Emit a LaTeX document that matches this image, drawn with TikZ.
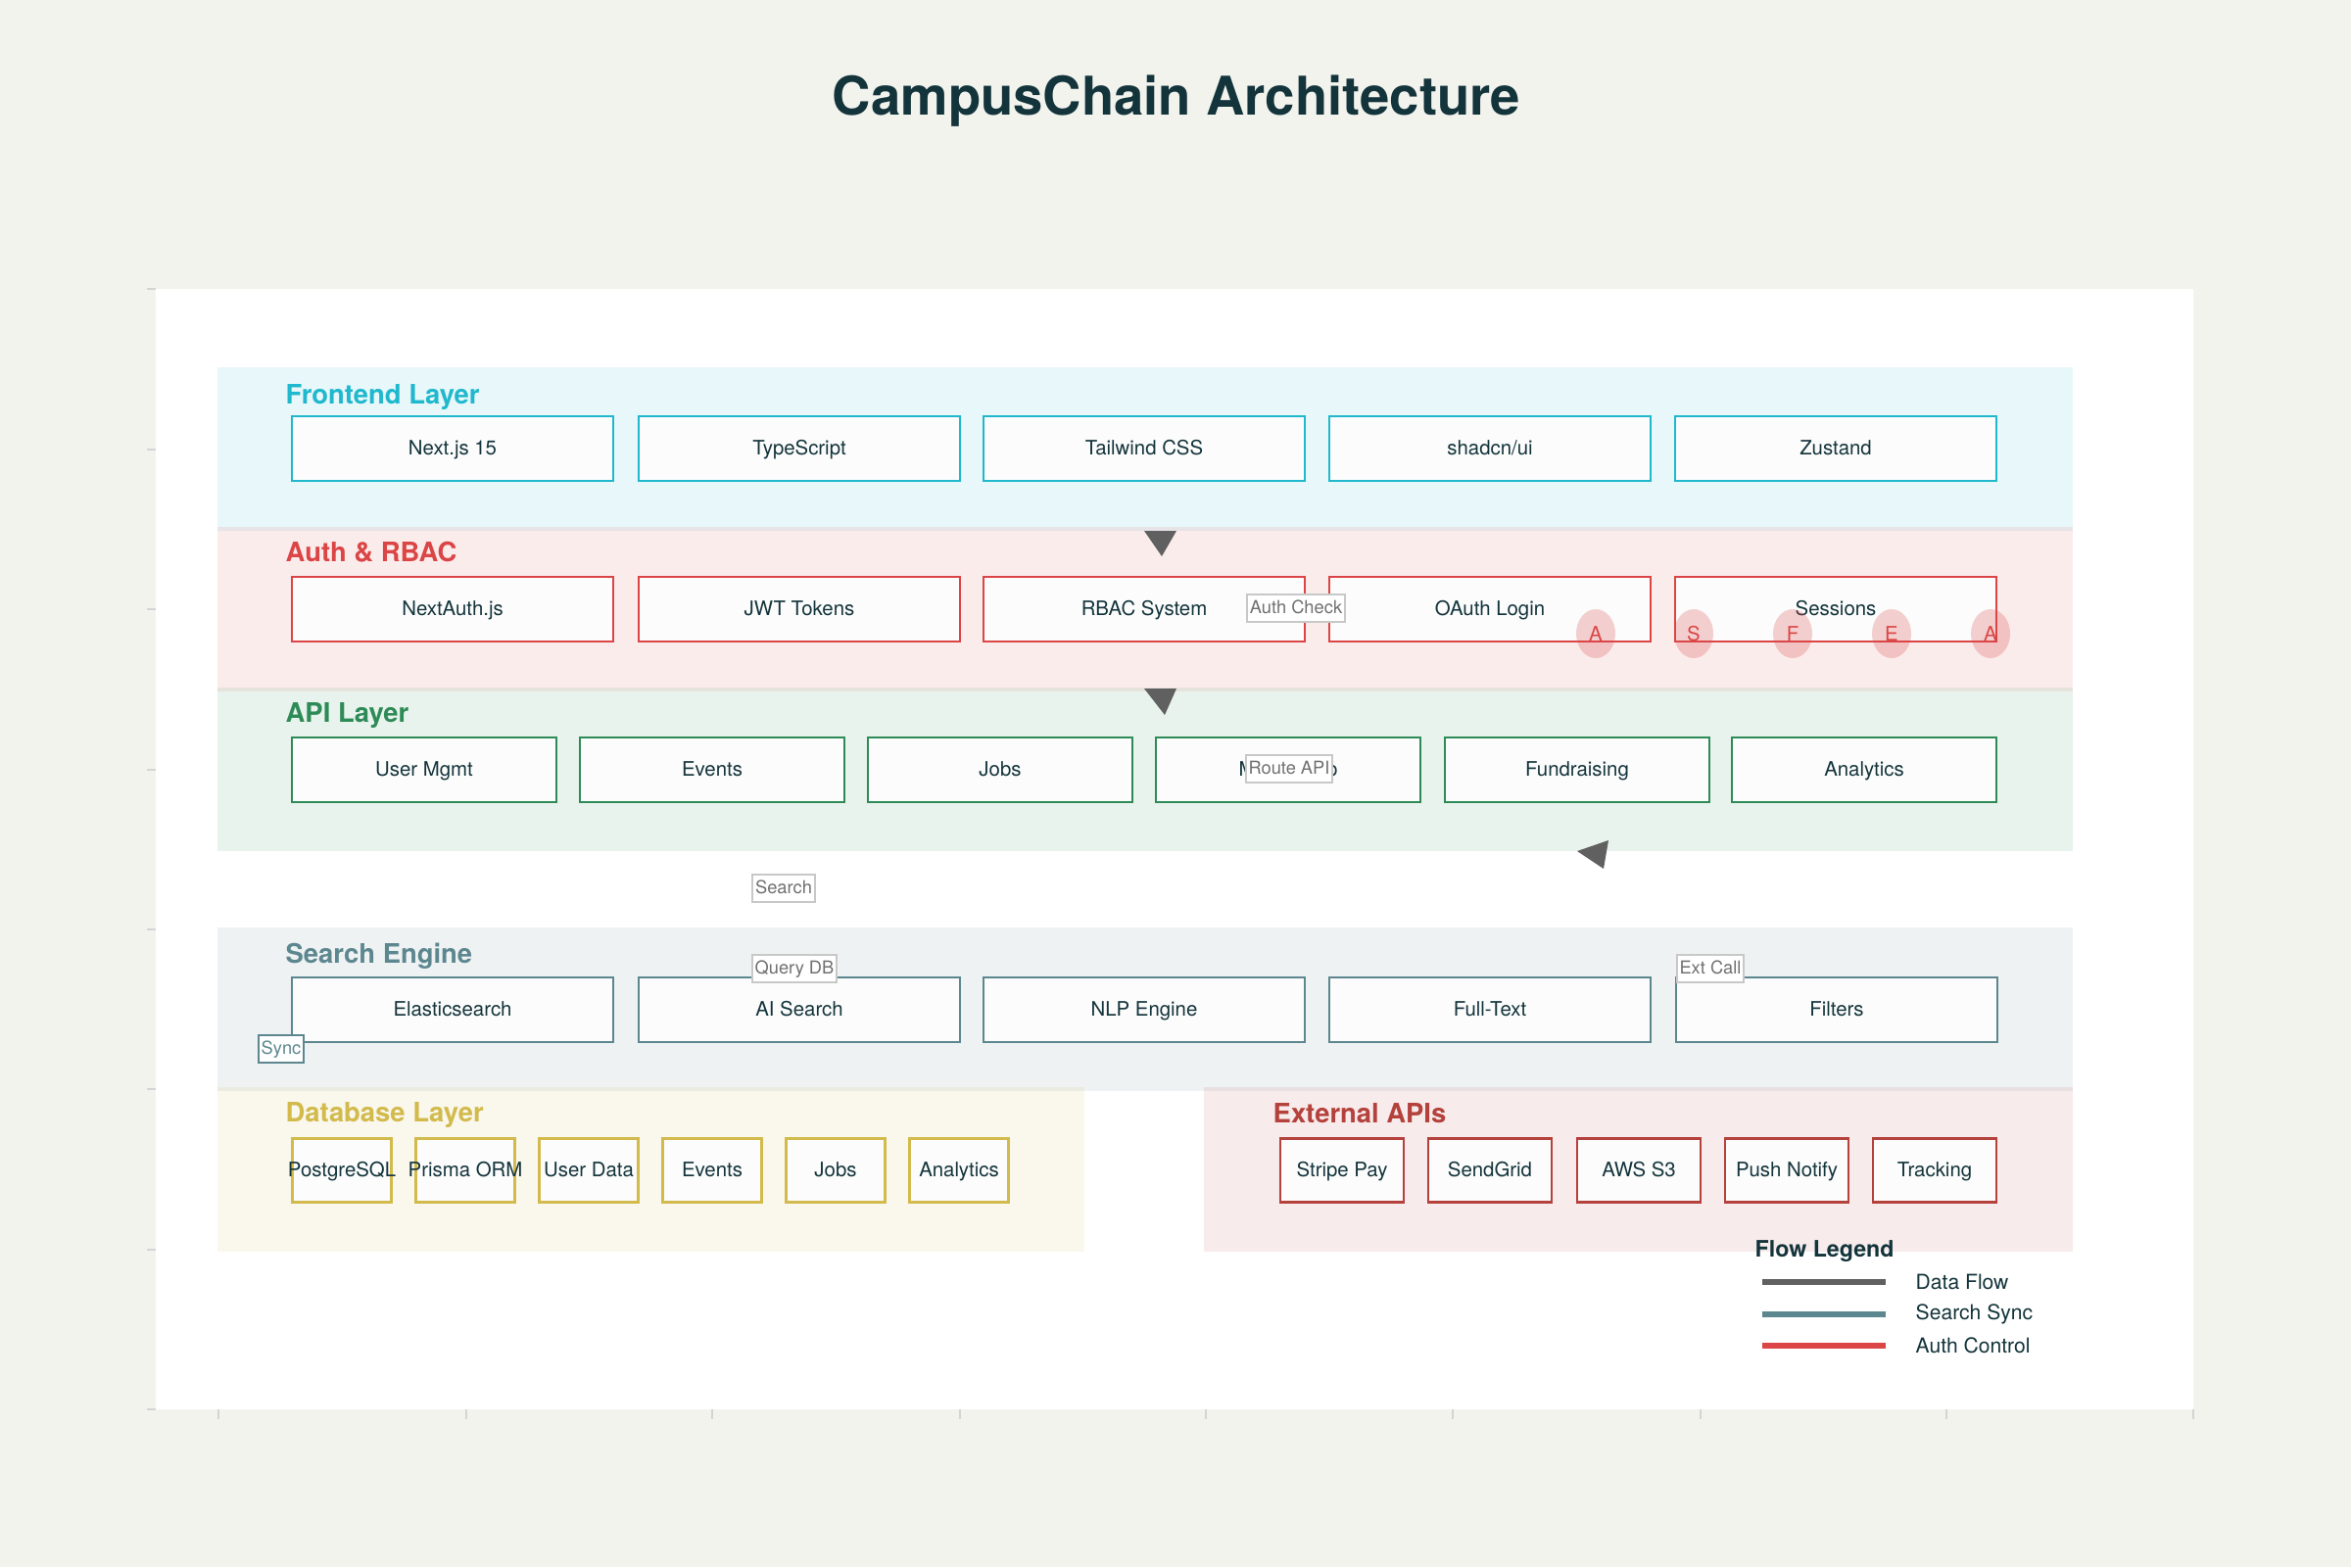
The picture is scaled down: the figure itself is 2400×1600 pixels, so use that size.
\documentclass[tikz,border=0pt]{standalone}
\usepackage{fontspec}
\setmainfont{TeX Gyre Heros}
\usepackage{tikz}
\usetikzlibrary{calc,shapes}
\tikzset{>=latex}
\definecolor{pagebg}{HTML}{F3F3EE}
\definecolor{ink}{HTML}{13343B}
\definecolor{boxfill}{HTML}{FCFCFC}
\definecolor{fecol}{HTML}{1FB8CD}
\definecolor{authcol}{HTML}{DB4545}
\definecolor{apicol}{HTML}{2E8B57}
\definecolor{srchcol}{HTML}{5D878F}
\definecolor{dbcol}{HTML}{D2BA4C}
\definecolor{extcol}{HTML}{B4413C}
\definecolor{flowgray}{HTML}{606060}
\definecolor{lblgray}{HTML}{C8C8C8}
\definecolor{lbltext}{HTML}{707070}
\definecolor{tickgray}{HTML}{D4D4D4}
\tikzset{
  comp/.style={draw, line width=0.6pt, fill=boxfill, text=ink, font=\fontsize{5.8}{7}\selectfont, inner sep=0pt, text height=4.4pt, text depth=0.9pt, minimum height=0.66cm},
  fecomp/.style={comp, draw=fecol, minimum width=3.28cm},
  authcomp/.style={comp, draw=authcol, minimum width=3.28cm},
  apicomp/.style={comp, draw=apicol, minimum width=2.7cm},
  srchcomp/.style={comp, draw=srchcol, minimum width=3.28cm},
  dbcomp/.style={comp, draw=dbcol, minimum width=1.01cm, minimum height=0.65cm, inner xsep=-6pt},
  extcomp/.style={comp, draw=extcol, minimum width=1.26cm, minimum height=0.65cm},
  layertitle/.style={anchor=base west, inner sep=0pt, font=\bfseries\fontsize{7.8}{9}\selectfont},
  flowlabel/.style={draw=lblgray, line width=0.5pt, fill=white, text=lbltext, font=\fontsize{5.2}{6}\selectfont, inner xsep=0.8pt, inner ysep=0pt, text height=4.2pt, text depth=0.8pt, minimum height=0.28cm},
  authtag/.style={ellipse, fill=authcol, fill opacity=0.25, text opacity=1, text=authcol, minimum width=0.4cm, minimum height=0.5cm, inner sep=0pt, font=\fontsize{5.8}{7}\selectfont},
  legline/.style={line width=1.8pt},
  legtext/.style={anchor=west, inner sep=0pt, text=ink, font=\fontsize{6}{7}\selectfont}
}

\begin{document}
\begin{tikzpicture}[x=0.1mm, y=-0.1mm]
\useasboundingbox (0,0) rectangle (2400,1600);
\fill[pagebg] (0,0) rectangle (2400,1600);
\fill[white] (159,295) rectangle (2239,1439);
% axis ticks
\draw[tickgray, line width=0.5pt]
(150,295) -- (159,295) (150,459) -- (159,459) (150,622) -- (159,622) (150,786) -- (159,786)
(150,949) -- (159,949) (150,1112) -- (159,1112) (150,1276) -- (159,1276) (150,1439) -- (159,1439)
(223,1439) -- (223,1449) (476,1439) -- (476,1449) (727,1439) -- (727,1449) (980,1439) -- (980,1449)
(1231,1439) -- (1231,1449) (1483,1439) -- (1483,1449) (1736,1439) -- (1736,1449) (1987,1439) -- (1987,1449)
(2239,1439) -- (2239,1449);

\node[font=\bfseries\fontsize{15.5}{19}\selectfont, text=ink] (title) at (1201,103) {CampusChain Architecture};

% layers
\fill[fecol, fill opacity=0.1] (222,375) rectangle (2116,542);
\fill[authcol, fill opacity=0.1] (222,538) rectangle (2116,706);
\fill[apicol, fill opacity=0.1] (222,702) rectangle (2116,869);
\fill[srchcol, fill opacity=0.1] (222,947) rectangle (2116,1114);
\fill[dbcol, fill opacity=0.1] (222,1110) rectangle (1107,1278);
\fill[extcol, fill opacity=0.1] (1229,1110) rectangle (2116,1278);

\node[layertitle, text=fecol] (feTitle) at (291,412) {Frontend Layer};
\node[layertitle, text=authcol] (authTitle) at (291,573) {Auth \& RBAC};
\node[layertitle, text=apicol] (apiTitle) at (291,737) {API Layer};
\node[layertitle, text=srchcol] (srchTitle) at (291,983) {Search Engine};
\node[layertitle, text=dbcol] (dbTitle) at (291,1145) {Database Layer};
\node[layertitle, text=extcol] (extTitle) at (1299,1146) {External APIs};

% frontend
\node[fecomp] (fe-1) at (462,458) {Next.js 15};
\node[fecomp] (fe-2) at (816,458) {TypeScript};
\node[fecomp] (fe-3) at (1168,458) {Tailwind CSS};
\node[fecomp] (fe-4) at (1521,458) {shadcn/ui};
\node[fecomp] (fe-5) at (1874,458) {Zustand};

% auth
\node[authcomp] (auth-1) at (462,622) {NextAuth.js};
\node[authcomp] (auth-2) at (816,622) {JWT Tokens};
\node[authcomp] (auth-3) at (1168,622) {RBAC System};
\node[authcomp] (auth-4) at (1521,622) {OAuth Login};
\node[authcomp] (auth-5) at (1874,622) {Sessions};

% api
\node[apicomp] (api-1) at (433,786) {User Mgmt};
\node[apicomp] (api-2) at (727,786) {Events};
\node[apicomp] (api-3) at (1021,786) {Jobs};
\node[apicomp] (api-4) at (1315,786) {Mentorship};
\node[apicomp] (api-5) at (1610,786) {Fundraising};
\node[apicomp] (api-6) at (1903,786) {Analytics};

% search
\node[srchcomp] (srch-1) at (462,1031) {Elasticsearch};
\node[srchcomp] (srch-2) at (816,1031) {AI Search};
\node[srchcomp] (srch-3) at (1168,1031) {NLP Engine};
\node[srchcomp] (srch-4) at (1521,1031) {Full-Text};
\node[srchcomp] (srch-5) at (1875,1031) {Filters};

% database
\node[dbcomp] (db-1) at (349,1195) {PostgreSQL};
\node[dbcomp] (db-2) at (475,1195) {Prisma ORM};
\node[dbcomp] (db-3) at (601,1195) {User Data};
\node[dbcomp] (db-4) at (727,1195) {Events};
\node[dbcomp] (db-5) at (853,1195) {Jobs};
\node[dbcomp] (db-6) at (979,1195) {Analytics};

% external
\node[extcomp] (ext-1) at (1370,1195) {Stripe Pay};
\node[extcomp] (ext-2) at (1521,1195) {SendGrid};
\node[extcomp] (ext-3) at (1673,1195) {AWS S3};
\node[extcomp] (ext-4) at (1824,1195) {Push Notify};
\node[extcomp] (ext-5) at (1975,1195) {Tracking};

% role tags
\node[authtag] (tag-1) at (1629,647) {A};
\node[authtag] (tag-2) at (1729,647) {S};
\node[authtag] (tag-3) at (1830,647) {F};
\node[authtag] (tag-4) at (1931,647) {E};
\node[authtag] (tag-5) at (2032,647) {A};

% arrow heads
\fill[flowgray] (1168,542) -- (1201,542) -- (1186,568) -- cycle;
\fill[flowgray] (1168,703) -- (1201,703) -- (1189,730) -- cycle;
\fill[flowgray] (1642,858) -- (1610,869) -- (1637,887) -- cycle;

% flow labels
\node[flowlabel] (lAuth) at (1323,621) {Auth Check};
\node[flowlabel] (lRoute) at (1316,785) {Route API};
\node[flowlabel] (lSearch) at (800,907) {Search};
\node[flowlabel] (lQuery) at (811,989) {Query DB};
\node[flowlabel] (lExt) at (1746,989) {Ext Call};
\node[flowlabel, draw=srchcol, text=srchcol] (lSync) at (287,1071) {Sync};

% legend
\node[anchor=base west, inner sep=0pt, text=ink, font=\bfseries\fontsize{6.6}{8}\selectfont] (legTitle) at (1791,1283) {Flow Legend};
\coordinate (d1) at (1799,1309); \coordinate (d2) at (1925,1309);
\coordinate (s1) at (1799,1342); \coordinate (s2) at (1925,1342);
\coordinate (a1) at (1799,1374); \coordinate (a2) at (1925,1374);
\draw[legline, flowgray] (d1) -- (d2);
\draw[legline, srchcol] (s1) -- (s2);
\draw[legline, authcol] (a1) -- (a2);
\node[legtext] (legData) at (1955,1309) {Data Flow};
\node[legtext] (legSync) at (1955,1342) {Search Sync};
\node[legtext] (legAuth) at (1955,1374) {Auth Control};
\end{tikzpicture}
\end{document}
